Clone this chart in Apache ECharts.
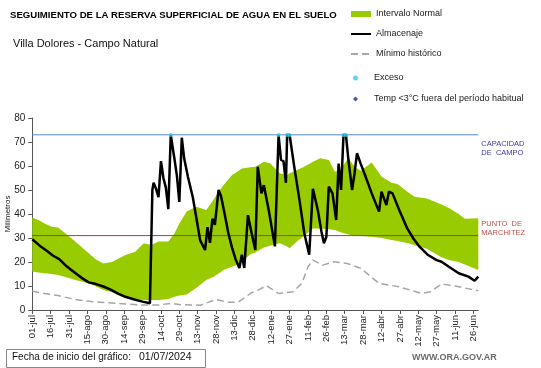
<!DOCTYPE html>
<html><head><meta charset="utf-8">
<script src="https://cdn.jsdelivr.net/npm/echarts@6/dist/echarts.min.js"></script>
<style>html,body{margin:0;padding:0;background:#fff}#c{width:541px;height:368px}</style>
</head><body><div id="c"></div>
<script>
// ---- data (day index from 01/07/2024, value in mm) ----
const tickLabels = ['01-jul','16-jul','31-jul','15-ago','30-ago','14-sep','29-sep','14-oct','29-oct','13-nov','28-nov','13-dic','28-dic','12-ene','27-ene','11-feb','26-feb','13-mar','28-mar','12-abr','27-abr','12-may','27-may','11-jun','26-jun'];
const dayCount = 365;
const days = Array.from({length: dayCount}, (_, i) => i);

const almacenajeDays = [0,6,12,17,22,28,34,40,46,52,58,64,70,76,84,90,96,97,98,99,101,103,105,107,109,111,113,116,118,120,122,124,127,131,134,137,141,143,145,147,149,152,154,157,160,163,166,169,171,173,176,179,182,184,187,189,193,198,201,203,205,207,208,210,214,218,222,226,229,233,236,238,240,242,245,248,250,252,254,256,258,261,263,265,268,272,277,283,285,289,291,294,300,306,311,316,323,330,334,340,348,356,361,364];
const almacenajeValues = [29.5,26.8,24.6,22.6,21.2,18.2,15.8,13.5,11.5,10.8,9.8,8.5,6.8,5.5,4.3,3.5,2.8,3,50,53,50.5,47,62,55,51,42,72.9,63,56,45,71.8,63,55.5,47,38,29,25,34.5,28,38,35.5,50,47.5,40,32,26,21,17.5,23,17.5,39.5,32,25,59.7,48.6,52,41.5,26.5,72.9,62.5,62,53,72.9,72.9,59,46,32,23,50.5,41.7,32.6,27.8,30.5,51.4,48.6,37.5,61,50,72.9,72.9,62.5,50,57,65.3,61,55.6,48.6,41,49.3,43.7,49.3,48.6,41,34,29.8,26.4,22.9,20.8,20.1,18,15.3,13.9,12.2,13.9];

const bandDays  = [0,5,10,16,21,27,35,46,52,58,65,76,84,91,97,103,111,116,120,126,134,142,148,153,156,163,167,171,178,182,189,194,202,208,210,216,221,227,229,235,242,247,251,258,263,268,277,285,293,298,307,312,322,334,340,348,353,364];
const bandLower = [16,15.6,15.3,15,14.6,13.8,12.5,11.1,9.8,8.3,7.4,4.9,4.4,4.2,4.2,4.2,4.6,5.5,6,6.5,9.3,12.5,13.9,15.5,16.7,18,18.75,20,23.2,24,26,26.8,27.8,26.5,25.7,28.5,30.5,33,34,34,33.6,33.3,32.5,31.5,30.8,30.8,30.5,30,29.2,28.8,27.8,27,25.5,22,20.8,20,19,16.7];
const bandUpper = [38.5,37.5,36,34.7,34.4,32,28.5,23.6,21,19.4,20,22.9,24.3,27.8,27.1,28.5,28.5,31.9,36,41,43,41.7,46,50,52,56.3,57.5,59,59.5,59.7,61.8,61.1,57,56.3,57,58.3,59.5,61.1,61.8,63.2,62.5,57.6,58.3,63.2,59.7,58,61.5,55.6,53,52.5,49,47.2,46.5,44,42.5,40,38,38.2];

const minimoDays   = [0,10,21,35,48,62,76,89,103,114,121,137,150,160,168,179,185,191,201,213,220,225,229,237,246,257,268,278,283,299,318,325,334,345,361,364];
const minimoValues = [7.8,6.9,6,4.4,3.5,3,2.5,2.1,2.1,2.8,2.2,2,4.4,3.2,3.3,7.2,8.5,10.1,6.9,7.6,11.1,18,20.8,18.7,20.1,19.4,17.4,13.2,11.1,9.7,6.9,7.6,10.8,10,8.3,8];

const excesoDays   = [113,201,208,210,254,256];
const excesoValues = [72.9,72.9,72.9,72.9,72.9,72.9];

const capacidadCampo = 73;
const puntoMarchitez = 31;

// ---- chart ----
const pair = (xs, ys) => xs.map((d, i) => [d, ys[i]]);
const FONT = '"Liberation Sans", Arial, sans-serif';
const chart = echarts.init(document.getElementById('c'), null, {renderer: 'canvas'});

const refLine = (name, value, color, labelText, labelColor, offsetY) => ({
  name, type: 'line', symbol: 'none', z: 2, silent: true,
  data: [[0, value], [dayCount - 1, value]],
  itemStyle: {color},
  lineStyle: {color, width: 1, type: 'solid'},
  emphasis: {disabled: true},
  endLabel: {show: true, distance: 3, formatter: labelText, color: labelColor,
             fontSize: 7.5, lineHeight: 9, fontFamily: FONT, offset: [0, offsetY]}
});

chart.setOption({
  animation: false,
  textStyle: {fontFamily: FONT},
  title: [
    {text: 'SEGUIMIENTO DE LA RESERVA SUPERFICIAL DE AGUA EN EL SUELO', left: 5, top: 5,
     textStyle: {fontSize: 9.6, fontWeight: 'bold', color: '#000', fontFamily: FONT}},
    {text: 'Villa Dolores - Campo Natural', left: 8, top: 33,
     textStyle: {fontSize: 11, fontWeight: 'normal', color: '#111', fontFamily: FONT}}
  ],
  legend: [
    {orient: 'vertical', left: 350, top: 8.5, padding: 0, itemWidth: 20, itemHeight: 6, itemGap: 9,
     textStyle: {fontSize: 9, color: '#1a1a1a', lineHeight: 11, fontFamily: FONT},
     data: [
       {name: 'Intervalo Normal', icon: 'rect', itemStyle: {color: '#99cc00'}},
       {name: 'Almacenaje', itemStyle: {opacity: 0}},
       {name: 'Mínimo histórico', itemStyle: {opacity: 0}}
     ]},
    {orient: 'vertical', left: 353, top: 72.5, padding: 0, itemWidth: 5, itemHeight: 5, itemGap: 10,
     textStyle: {fontSize: 9, color: '#1a1a1a', lineHeight: 11, fontFamily: FONT, padding: [0, 0, 0, 11]},
     data: [
       {name: 'Exceso', icon: 'circle'},
       {name: 'Temp <3°C fuera del período habitual', icon: 'diamond'}
     ]}
  ],
  grid: {left: 32.3, right: 62.7, top: 118, bottom: 58, containLabel: false, outerBoundsMode: 'none'},
  xAxis: {
    type: 'category', data: days, boundaryGap: false,
    axisLine: {lineStyle: {color: '#555', width: 1}},
    axisTick: {interval: 14, length: 4, lineStyle: {color: '#555'}},
    axisLabel: {interval: 14, rotate: 90, fontSize: 9.5, color: '#222', margin: 5,
      formatter: (v, i) => tickLabels[i / 15]},
    splitLine: {show: false}
  },
  yAxis: {
    type: 'value', min: 0, max: 80, interval: 10,
    name: 'Milímetros', nameLocation: 'middle', nameGap: 21, nameMoveOverlap: false,
    nameTextStyle: {fontSize: 8, color: '#222'},
    axisLine: {show: true, lineStyle: {color: '#555'}},
    axisTick: {show: true, length: 4, lineStyle: {color: '#555'}},
    axisLabel: {fontSize: 10, color: '#222', margin: 7},
    splitLine: {show: false}
  },
  series: [
    {name: 'bandBase', type: 'line', stack: 'band', symbol: 'none',
     data: pair(bandDays, bandLower), lineStyle: {width: 0}, z: 1},
    {name: 'Intervalo Normal', type: 'line', stack: 'band', symbol: 'none',
     data: pair(bandDays, bandUpper.map((u, i) => u - bandLower[i])),
     lineStyle: {width: 0}, itemStyle: {color: '#99cc00'},
     areaStyle: {color: '#99cc00', opacity: 1}, z: 1},
    refLine('capacidad', capacidadCampo, '#5b86d0', 'CAPACIDAD\nDE  CAMPO', '#3a3aa8', 14),
    refLine('marchitez', puntoMarchitez, '#c8302c', 'PUNTO  DE\nMARCHITEZ', '#c0504d', -7),
    {name: 'Mínimo histórico', type: 'line', symbol: 'none', data: pair(minimoDays, minimoValues),
     itemStyle: {color: '#a6a6a6'}, lineStyle: {color: '#a6a6a6', width: 1.5, type: [7, 4]}, z: 3},
    {name: 'Almacenaje', type: 'line', symbol: 'none', data: pair(almacenajeDays, almacenajeValues),
     itemStyle: {color: '#000'}, lineStyle: {color: '#000', width: 2.5}, z: 4},
    {name: 'Exceso', type: 'scatter', symbol: 'circle', symbolSize: 4,
     data: pair(excesoDays, excesoValues), itemStyle: {color: '#3cc8f0'}, z: 5},
    {name: 'Temp <3°C fuera del período habitual', type: 'scatter', symbol: 'diamond', symbolSize: 5,
     data: [], itemStyle: {color: '#1f2a9a'}, z: 5}
  ],
  graphic: [
    {type: 'rect', left: 6, top: 349, shape: {width: 199, height: 18},
     style: {fill: '#fff', stroke: '#8c8585', lineWidth: 1}},
    {type: 'text', left: 12, top: 352,
     style: {text: 'Fecha de inicio del gráfico:', font: '10px ' + FONT, fill: '#111'}},
    {type: 'text', left: 139, top: 352,
     style: {text: '01/07/2024', font: '10.5px ' + FONT, fill: '#111'}},
    {type: 'text', left: 412, top: 353,
     style: {text: 'WWW.ORA.GOV.AR', font: 'bold 9px ' + FONT, fill: '#6b6b6b'}}
  ]
});
</script></body></html>
